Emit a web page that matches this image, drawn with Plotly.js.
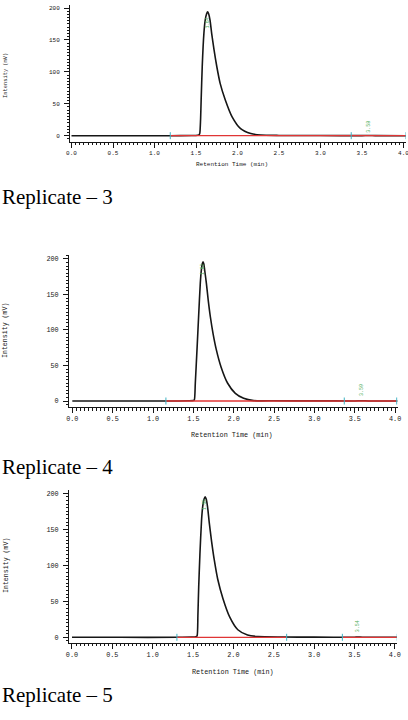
<!DOCTYPE html>
<html>
<head>
<meta charset="utf-8">
<script src="https://cdn.plot.ly/plotly-3.0.1.min.js"></script>
<style>
  html, body { margin: 0; padding: 0; background: #ffffff; }
  #chart { width: 408px; height: 720px; }
</style>
</head>
<body>
<div id="chart"></div>
<script>
// Chromatograms: retention time (min) and detector signal (mV) per run
const rt1 = [0, 0.6, 1.19, 1.45, 1.52, 1.538, 1.546, 1.555, 1.562, 1.575, 1.595, 1.611, 1.628, 1.64, 1.652, 1.669, 1.689, 1.718, 1.751, 1.791, 1.853, 1.935, 2.037, 2.16, 2.28, 2.5, 3.0, 3.5, 3.58, 3.66, 4.03];
const mv1 = [0, 0, 0, 0.3, 0.8, 1.5, 4, 25, 56, 108, 160, 181, 191, 194, 191, 181, 160, 134, 108, 82, 56, 29.5, 11, 3.4, 1.0, 0.4, 0.2, 0.1, 0.4, 0.1, 0];

const rt2 = [0, 0.6, 1.16, 1.45, 1.50, 1.512, 1.524, 1.545, 1.565, 1.586, 1.599, 1.61, 1.62, 1.63, 1.64, 1.661, 1.684, 1.71, 1.744, 1.785, 1.843, 1.925, 2.02, 2.123, 2.247, 2.5, 3.0, 3.5, 3.59, 3.67, 4.03];
const mv2 = [0, 0, 0, 0.3, 0.7, 1.4, 25, 72, 119, 166, 184.5, 193, 196, 193, 184.5, 166, 142, 119, 95, 72, 48, 25, 10.8, 3.8, 0.5, 0.3, 0.2, 0.1, 0.4, 0.1, 0];

const rt3 = [0, 0.6, 1.30, 1.48, 1.535, 1.55, 1.56, 1.57, 1.585, 1.605, 1.62, 1.637, 1.65, 1.663, 1.68, 1.70, 1.73, 1.765, 1.805, 1.87, 1.955, 2.055, 2.175, 2.305, 2.6, 3.0, 3.5, 3.54, 3.6, 4.03];
const mv3 = [0, 0, 0, 0.3, 0.8, 2, 30, 70, 115, 162, 182, 192, 195, 192, 181, 160, 133, 106, 81, 54, 28, 10.5, 3.2, 1, 0.4, 0.2, 0.1, 0.4, 0.1, 0];

// Integration baselines (start, end in min) and event marks
const base1 = [[1.19, 4.03]];
const base2 = [[1.16, 4.02]];
const base3 = [[1.30, 2.66], [3.35, 4.03]];
const marks1 = [1.19, 3.37, 4.03];
const marks2 = [1.16, 3.37, 4.02];
const marks3 = [1.30, 2.66, 3.35, 4.03];

// Retention times of the small late peaks
const minorRT = [3.58, 3.59, 3.54];

const runTitles = ['Replicate – 3', 'Replicate – 4', 'Replicate – 5'];
const xTitle = 'Retention Time (min)';
const yTitle = 'Intensity (mV)';

// Panel geometry (paper domains, axis ranges, font sizes)
const W = 408, H = 720;
const geom = [
  { x: [70, 406], xr: [-0.018, 4.030], y: [141.7, 5],   yr: [-9.4, 204.7], fs: 6,   yfs: 5.4, xt: [231.5, 165],  yt: [6, 76],  rt: 197, apexMv: 177, minorMv: 13.6 },
  { x: [69, 397.7], xr: [-0.041, 4.032], y: [407, 255], yr: [-8.45, 205.6], fs: 6.8, yfs: 6.6, xt: [232.3, 434.7], yt: [6, 331], rt: 467, apexMv: 185, minorMv: 15.5 },
  { x: [69, 397], xr: [-0.037, 4.027], y: [642.5, 490], yr: [-7.2, 204.6],  fs: 6.8, yfs: 6.6, xt: [233, 671.7], yt: [6, 566], rt: 695, apexMv: 184, minorMv: 15 }
];

const runs = [
  { rt: rt1, mv: mv1, base: base1, marks: marks1 },
  { rt: rt2, mv: mv2, base: base2, marks: marks2 },
  { rt: rt3, mv: mv3, base: base3, marks: marks3 }
];

const INK = '#161616';
const RED = '#e03535';
const CYAN = '#3fb3c4';
const GREEN = '#4fae5a';
const MONO = 'Liberation Mono, Courier New, monospace';

const traces = [];
const layout = {
  width: W, height: H,
  margin: { l: 0, r: 0, t: 0, b: 0 },
  paper_bgcolor: '#ffffff', plot_bgcolor: 'rgba(0,0,0,0)',
  showlegend: false,
  annotations: []
};

runs.forEach((run, i) => {
  const g = geom[i];
  const n = i + 1;
  const xa = n === 1 ? 'x' : 'x' + n;
  const ya = n === 1 ? 'y' : 'y' + n;

  // signal
  traces.push({
    x: run.rt, y: run.mv, xaxis: xa, yaxis: ya,
    type: 'scatter', mode: 'lines', line: { color: INK, width: 1.6, shape: 'spline', smoothing: 0.6 },
    hoverinfo: 'skip'
  });

  // integration baseline segments
  const bx = [], by = [];
  run.base.forEach(seg => { bx.push(seg[0], seg[1], null); by.push(0, 0, null); });
  traces.push({
    x: bx, y: by, xaxis: xa, yaxis: ya,
    type: 'scatter', mode: 'lines', line: { color: RED, width: 1.3 },
    hoverinfo: 'skip'
  });

  // event marks
  traces.push({
    x: run.marks, y: run.marks.map(() => 0), xaxis: xa, yaxis: ya,
    type: 'scatter', mode: 'markers',
    marker: { symbol: 'line-ns', size: 5, line: { color: CYAN, width: 1 } },
    hoverinfo: 'skip'
  });

  const tickFont = { family: MONO, size: g.fs, color: INK };
  layout['xaxis' + (n === 1 ? '' : n)] = {
    domain: [g.x[0] / W, g.x[1] / W], range: g.xr, anchor: ya,
    showline: true, linecolor: INK, linewidth: 1,
    ticks: 'outside', ticklen: 5, tickwidth: 1, tickcolor: INK,
    tick0: 0, dtick: 0.5, tickformat: '.1f', tickfont: tickFont,
    ticklabeloverflow: 'allow',
    minor: { ticks: 'outside', dtick: 0.05, ticklen: 2.5, tickwidth: 1, tickcolor: INK, showgrid: false },
    showgrid: false, zeroline: false, fixedrange: true
  };
  layout['yaxis' + (n === 1 ? '' : n)] = {
    domain: [1 - g.y[0] / H, 1 - g.y[1] / H], range: g.yr, anchor: xa,
    showline: true, linecolor: INK, linewidth: 1,
    ticks: 'outside', ticklen: 5, tickwidth: 1, tickcolor: INK,
    tick0: 0, dtick: 50, tickfont: tickFont, ticklabelstandoff: 3,
    minor: { ticks: 'outside', dtick: 5, ticklen: 2.5, tickwidth: 1, tickcolor: INK, showgrid: false },
    showgrid: false, zeroline: false, fixedrange: true
  };

  // axis titles
  layout.annotations.push({
    xref: 'paper', yref: 'paper', x: g.xt[0] / W, y: 1 - g.xt[1] / H,
    text: xTitle, showarrow: false, xanchor: 'center', yanchor: 'middle',
    font: { family: MONO, size: g.fs, color: INK }
  });
  layout.annotations.push({
    xref: 'paper', yref: 'paper', x: g.yt[0] / W, y: 1 - g.yt[1] / H,
    text: yTitle, showarrow: false, textangle: -90, xanchor: 'center', yanchor: 'middle',
    font: { family: MONO, size: g.yfs, color: INK }
  });

  // apex retention time label
  let k = 0;
  run.mv.forEach((v, j) => { if (v > run.mv[k]) k = j; });
  layout.annotations.push({
    xref: xa, yref: ya, x: run.rt[k], y: g.apexMv,
    text: run.rt[k].toFixed(2), showarrow: false, textangle: -90,
    xanchor: 'center', yanchor: 'middle',
    font: { family: MONO, size: 4.5, color: GREEN }
  });

  // small late peak label
  layout.annotations.push({
    xref: xa, yref: ya, x: minorRT[i], y: g.minorMv,
    text: minorRT[i].toFixed(2), showarrow: false, textangle: -90,
    xanchor: 'center', yanchor: 'middle',
    font: { family: MONO, size: 5, color: GREEN }
  });

  // run heading
  layout.annotations.push({
    xref: 'paper', yref: 'paper', x: 0, y: 1 - g.rt / H,
    text: runTitles[i], showarrow: false, xanchor: 'left', yanchor: 'middle',
    font: { family: 'Liberation Serif, Times New Roman, serif', size: 21, color: '#000000' }
  });
});

Plotly.newPlot('chart', traces, layout, { staticPlot: true, displayModeBar: false });
</script>
</body>
</html>
